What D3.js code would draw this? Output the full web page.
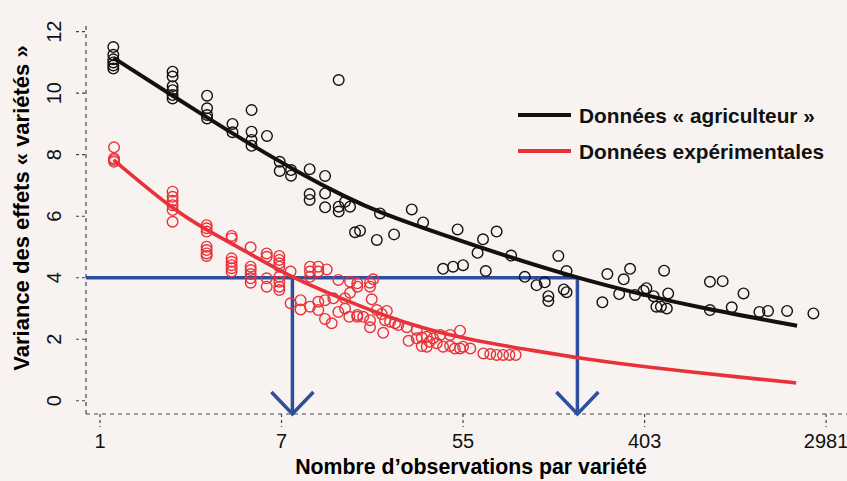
<!DOCTYPE html>
<meta charset="utf-8">
<script src="https://d3js.org/d3.v7.min.js"></script>
<style>
  body { margin: 0; background: #f8f3f0; }
  svg { display: block; font-family: "Liberation Sans", Arial, sans-serif; }
</style>
<div id="my_dataviz"></div>
<script>

// x values are log(nombre d'observations), labels are exp(tick) rounded
var xTickValues = [0, 2, 4, 6, 8];
var xTickLabels = ["1", "7", "55", "403", "2981"];
var yTickValues = [0, 2, 4, 6, 8, 10, 12];

// [log n, variance]
var farmerPoints = [
  [0.147,11.5],[0.147,11.25],[0.147,11.1],[0.147,11.0],[0.147,10.9],[0.147,10.8],
  [0.80,10.7],[0.80,10.54],[0.80,10.23],[0.80,10.1],[0.80,9.94],[0.80,9.83],
  [1.18,9.92],[1.18,9.51],[1.18,9.29],[1.18,9.18],
  [1.46,9.0],[1.46,8.73],
  [1.67,9.45],[1.67,8.75],[1.67,8.48],[1.67,8.29],
  [1.84,8.61],
  [1.98,7.77],[1.98,7.47],
  [2.105,7.50],[2.105,7.32],
  [2.31,7.53],[2.48,7.31],[2.31,6.72],[2.31,6.53],[2.48,6.74],[2.48,6.29],[2.63,6.31],[2.63,6.15],
  [2.70,6.47],[2.755,6.31],[2.63,10.43],
  [2.81,5.48],[2.865,5.53],[3.05,5.23],[3.24,5.41],[3.085,6.09],[3.435,6.22],[3.56,5.80],[3.94,5.57],
  [3.78,4.29],[3.89,4.36],[4.00,4.41],[4.22,5.25],[4.37,5.50],[4.16,4.81],[4.25,4.22],[4.53,4.72],
  [4.68,4.03],[4.81,3.76],[4.90,3.85],[5.05,4.71],[5.14,4.22],[4.94,3.40],[4.94,3.24],[5.11,3.62],[5.14,3.53],
  [5.59,4.12],[5.84,4.29],[5.77,3.95],[5.72,3.47],[5.535,3.20],
  [5.895,3.44],[5.99,3.58],[6.02,3.66],[6.10,3.40],[6.215,4.23],[6.26,3.49],[6.13,3.06],[6.18,3.06],[6.245,3.00],
  [6.72,3.87],[6.86,3.89],[7.09,3.49],[6.72,2.95],[6.96,3.04],[7.265,2.89],[7.36,2.92],[7.57,2.92],[7.86,2.84]
];

var trialPoints = [
  [0.155,8.24],[0.155,7.88],[0.155,7.83],[0.155,7.77],
  [0.80,6.80],[0.80,6.63],[0.80,6.50],[0.80,6.36],[0.80,6.20],[0.80,5.82],
  [1.175,5.71],[1.175,5.61],[1.175,5.50],[1.175,5.01],[1.175,4.90],[1.175,4.79],[1.175,4.71],
  [1.45,5.36],[1.45,5.28],[1.45,4.63],[1.45,4.52],[1.45,4.41],[1.45,4.31],[1.45,4.20],
  [1.66,4.99],[1.66,4.36],[1.66,4.25],[1.66,4.12],[1.66,3.98],[1.66,3.84],
  [1.837,4.79],[1.837,4.68],[1.837,3.98],[1.837,3.71],
  [1.976,4.71],[1.976,4.58],[1.976,4.47],[1.976,4.36],[1.976,4.03],[1.976,3.87],[1.976,3.71],[1.976,3.60],
  [2.10,4.20],[2.10,3.17],
  [2.21,3.27],[2.21,2.97],
  [2.314,4.36],[2.314,4.20],[2.405,4.36],[2.405,4.20],[2.498,4.27],[2.314,4.03],
  [2.314,3.06],[2.405,3.22],[2.405,2.95],[2.479,2.66],[2.553,2.52],[2.479,3.27],[2.571,3.33],
  [2.626,3.93],[2.626,2.89],[2.70,3.33],[2.755,3.87],[2.747,2.73],[2.835,3.82],[2.835,3.71],
  [2.975,3.84],[2.975,3.71],[3.01,3.95],[2.835,2.79],[2.835,2.73],[2.755,3.51],[2.70,3.0],
  [2.994,3.30],[2.90,2.73],[2.975,2.62],[2.975,2.39],[3.05,2.95],[3.104,2.82],[3.14,2.62],[3.16,2.92],
  [3.12,2.21],[3.196,2.57],[3.251,2.52],[3.287,2.46],[3.38,2.39],[3.40,1.95],[3.49,2.30],
  [3.545,2.06],[3.60,2.08],[3.63,1.92],[3.67,2.03],[3.71,1.87],[3.545,1.78],[3.60,1.76],[3.75,2.14],
  [3.857,2.14],[3.967,2.28],[3.857,1.78],[3.91,1.70],[3.967,1.70],[4.00,1.76],[4.08,1.70],
  [4.224,1.54],[4.30,1.52],[4.37,1.49],[4.44,1.49],[4.51,1.49],[4.58,1.49],[3.49,2.03],[3.78,1.76]
];

// fitted curves
var farmerCurve = [[0.15,11.15],[1.18,9.2],[1.65,8.35],[2.2,7.4],[2.72,6.6],[3.08,6.12],[3.75,5.42],
  [4.48,4.7],[5.25,4.0],[5.95,3.47],[6.61,3.02],[7.68,2.44]];
var trialCurve = [[0.15,7.83],[0.81,6.2],[1.175,5.55],[1.65,4.79],[2.06,4.09],[2.61,3.38],[3.34,2.52],
  [4.08,1.97],[4.74,1.65],[5.29,1.38],[6.17,1.04],[7.27,0.7],[7.67,0.58]];

var threshold = 4;
var arrowLogN = [2.12, 5.26];
var legendLabels = ["Données « agriculteur »", "Données expérimentales"];

var width = 847, height = 481;
var black = "#111111", red = "#e8323a", blue = "#2d4f9d";

var svg = d3.select("#my_dataviz")
  .append("svg")
    .attr("width", width)
    .attr("height", height)

svg.append("rect")
  .attr("width", width).attr("height", height)
  .style("fill", "#f8f3f0")

// plot region (R style, axes dashed)
var x = d3.scaleLinear().domain([-0.154, 8.23]).range([86, 847])
var y = d3.scaleLinear().domain([-0.43, 12.25]).range([414, 24])

var axisColor = "#444"
svg.append("line")
  .attr("x1", x.range()[0]).attr("x2", x.range()[1])
  .attr("y1", y.range()[0]).attr("y2", y.range()[0])
  .attr("stroke", axisColor).attr("stroke-width", 1.2).attr("stroke-dasharray", "4,4")
svg.append("line")
  .attr("x1", x.range()[0]).attr("x2", x.range()[0])
  .attr("y1", y.range()[0]).attr("y2", y.range()[1])
  .attr("stroke", axisColor).attr("stroke-width", 1.2).attr("stroke-dasharray", "4,4")

// x ticks
svg.selectAll(".xtick")
  .data(xTickValues)
  .enter()
  .append("line")
    .attr("x1", function(d) { return x(d); }).attr("x2", function(d) { return x(d); })
    .attr("y1", 414).attr("y2", 427)
    .attr("stroke", axisColor).attr("stroke-width", 1.2).attr("stroke-dasharray", "3,3")
svg.selectAll(".xlab")
  .data(xTickValues)
  .enter()
  .append("text")
    .attr("x", function(d) { return x(d); })
    .attr("y", 448)
    .attr("text-anchor", "middle")
    .style("font-size", "20px")
    .style("fill", "#111")
    .text(function(d, i) { return xTickLabels[i]; })

// y ticks
svg.selectAll(".ytick")
  .data(yTickValues)
  .enter()
  .append("line")
    .attr("x1", 76).attr("x2", 86)
    .attr("y1", function(d) { return y(d); }).attr("y2", function(d) { return y(d); })
    .attr("stroke", axisColor).attr("stroke-width", 1.2).attr("stroke-dasharray", "3,3")
svg.selectAll(".ylab")
  .data(yTickValues)
  .enter()
  .append("text")
    .attr("transform", function(d) { return "translate(61," + y(d) + ") rotate(-90)"; })
    .attr("text-anchor", "middle")
    .style("font-size", "20px")
    .style("fill", "#111")
    .text(function(d) { return d; })

// axis titles
svg.append("text")
  .attr("x", 471).attr("y", 474)
  .attr("text-anchor", "middle")
  .style("font-size", "21.3px").style("font-weight", "bold")
  .text("Nombre d\u2019observations par variété")
svg.append("text")
  .attr("transform", "translate(29,208) rotate(-90)")
  .attr("text-anchor", "middle")
  .style("font-size", "22px").style("font-weight", "bold")
  .text("Variance des effets « variétés »")

// blue threshold lines and arrows
var yBottom = y.range()[0]
svg.append("line")
  .attr("x1", x.range()[0]).attr("x2", x(arrowLogN[1]))
  .attr("y1", y(threshold)).attr("y2", y(threshold))
  .attr("stroke", blue).attr("stroke-width", 3.5)
arrowLogN.forEach(function(v) {
  svg.append("line")
    .attr("x1", x(v)).attr("x2", x(v))
    .attr("y1", y(threshold) - 1.75).attr("y2", yBottom)
    .attr("stroke", blue).attr("stroke-width", 3.5)
  svg.append("path")
    .attr("d", "M" + (x(v) - 21) + "," + (yBottom - 22) + "L" + x(v) + "," + yBottom + "L" + (x(v) + 21) + "," + (yBottom - 22))
    .attr("fill", "none").attr("stroke", blue).attr("stroke-width", 3.5)
})

// points
svg.append("g").selectAll("circle")
  .data(farmerPoints)
  .enter()
  .append("circle")
    .attr("cx", function(d) { return x(d[0]); })
    .attr("cy", function(d) { return y(d[1]); })
    .attr("r", 5.3)
    .attr("fill", "none").attr("stroke", black).attr("stroke-width", 1.4)
svg.append("g").selectAll("circle")
  .data(trialPoints)
  .enter()
  .append("circle")
    .attr("cx", function(d) { return x(d[0]); })
    .attr("cy", function(d) { return y(d[1]); })
    .attr("r", 5.3)
    .attr("fill", "none").attr("stroke", red).attr("stroke-width", 1.4)

// curves
var line = d3.line()
  .x(function(d) { return x(d[0]); })
  .y(function(d) { return y(d[1]); })
  .curve(d3.curveBasis)
svg.append("path").datum(farmerCurve)
  .attr("d", line).attr("fill", "none").attr("stroke", black).attr("stroke-width", 4)
svg.append("path").datum(trialCurve)
  .attr("d", line).attr("fill", "none").attr("stroke", red).attr("stroke-width", 3.6)

// legend
var legendColors = [black, red]
legendLabels.forEach(function(label, i) {
  var ly = 115 + i * 36
  svg.append("line")
    .attr("x1", 518).attr("x2", 571).attr("y1", ly).attr("y2", ly)
    .attr("stroke", legendColors[i]).attr("stroke-width", 4)
  svg.append("text")
    .attr("x", 579).attr("y", ly + 7.5)
    .style("font-size", "20.8px").style("font-weight", "bold")
    .style("fill", "#111")
    .text(label)
})

</script>
